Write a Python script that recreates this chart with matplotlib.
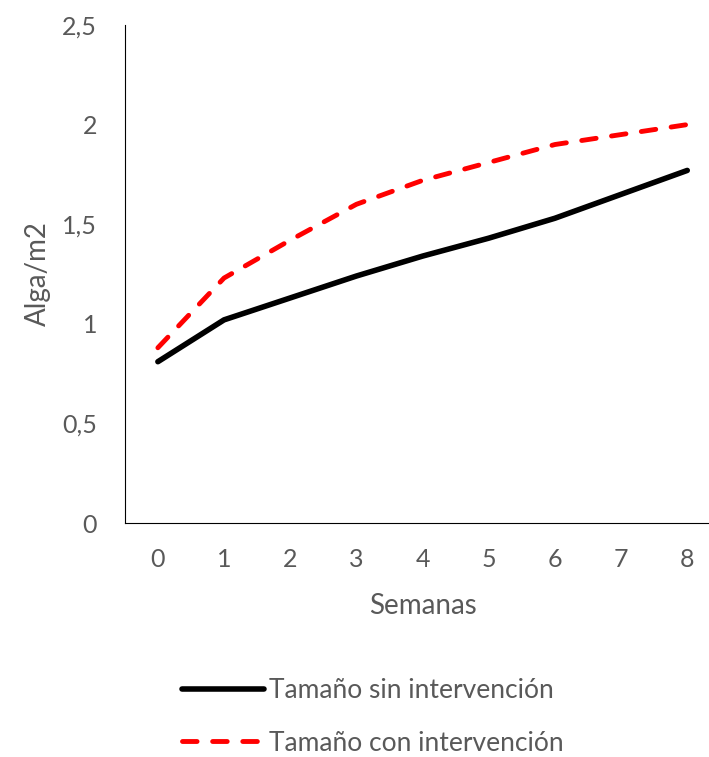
import matplotlib.pyplot as plt
from matplotlib.ticker import FuncFormatter

plt.rcParams['font.family'] = ['Lato', 'DejaVu Sans']

# datos
semanas = [0, 1, 2, 3, 4, 5, 6, 7, 8]
sin_intervencion = [0.81, 1.02, 1.13, 1.24, 1.34, 1.43, 1.53, 1.65, 1.77]
con_intervencion = [0.88, 1.23, 1.42, 1.60, 1.72, 1.81, 1.90, 1.95, 2.00]

gris = '#595959'

fig = plt.figure(figsize=(7.09, 7.57), dpi=100)
ax = fig.add_axes([0.176, 0.309, 0.84, 0.658])

ax.plot(semanas, sin_intervencion, color='black', lw=4, solid_capstyle='round',
        label='Tamaño sin intervención')
ax.plot(semanas, con_intervencion, color='#ff0000', lw=3.5, ls=(0, (3, 3.2)),
        dash_capstyle='round', label='Tamaño con intervención')

ax.set_xlim(-0.5, 8.5)
ax.set_ylim(0, 2.5)
ax.set_xticks(semanas)
ax.set_yticks([0, 0.5, 1, 1.5, 2, 2.5])
ax.yaxis.set_major_formatter(FuncFormatter(lambda v, p: f'{v:g}'.replace('.', ',')))

for s in ['top', 'right']:
    ax.spines[s].set_visible(False)
ax.spines['left'].set_color('black')
ax.spines['bottom'].set_color('black')
ax.tick_params(length=0, labelsize=18, colors=gris)
ax.tick_params(axis='x', pad=18)
ax.tick_params(axis='y', pad=20)

ax.set_xlabel('Semanas', fontsize=20, color=gris, labelpad=16)
ax.set_ylabel('Alga/m2', fontsize=20, color=gris, labelpad=8)

fig.legend(loc='center', bbox_to_anchor=(0.526, 0.053), frameon=False,
           fontsize=19, labelcolor=gris, handlelength=3.1, handletextpad=0.2,
           labelspacing=1.05)

fig.savefig('out.png', dpi=100)
